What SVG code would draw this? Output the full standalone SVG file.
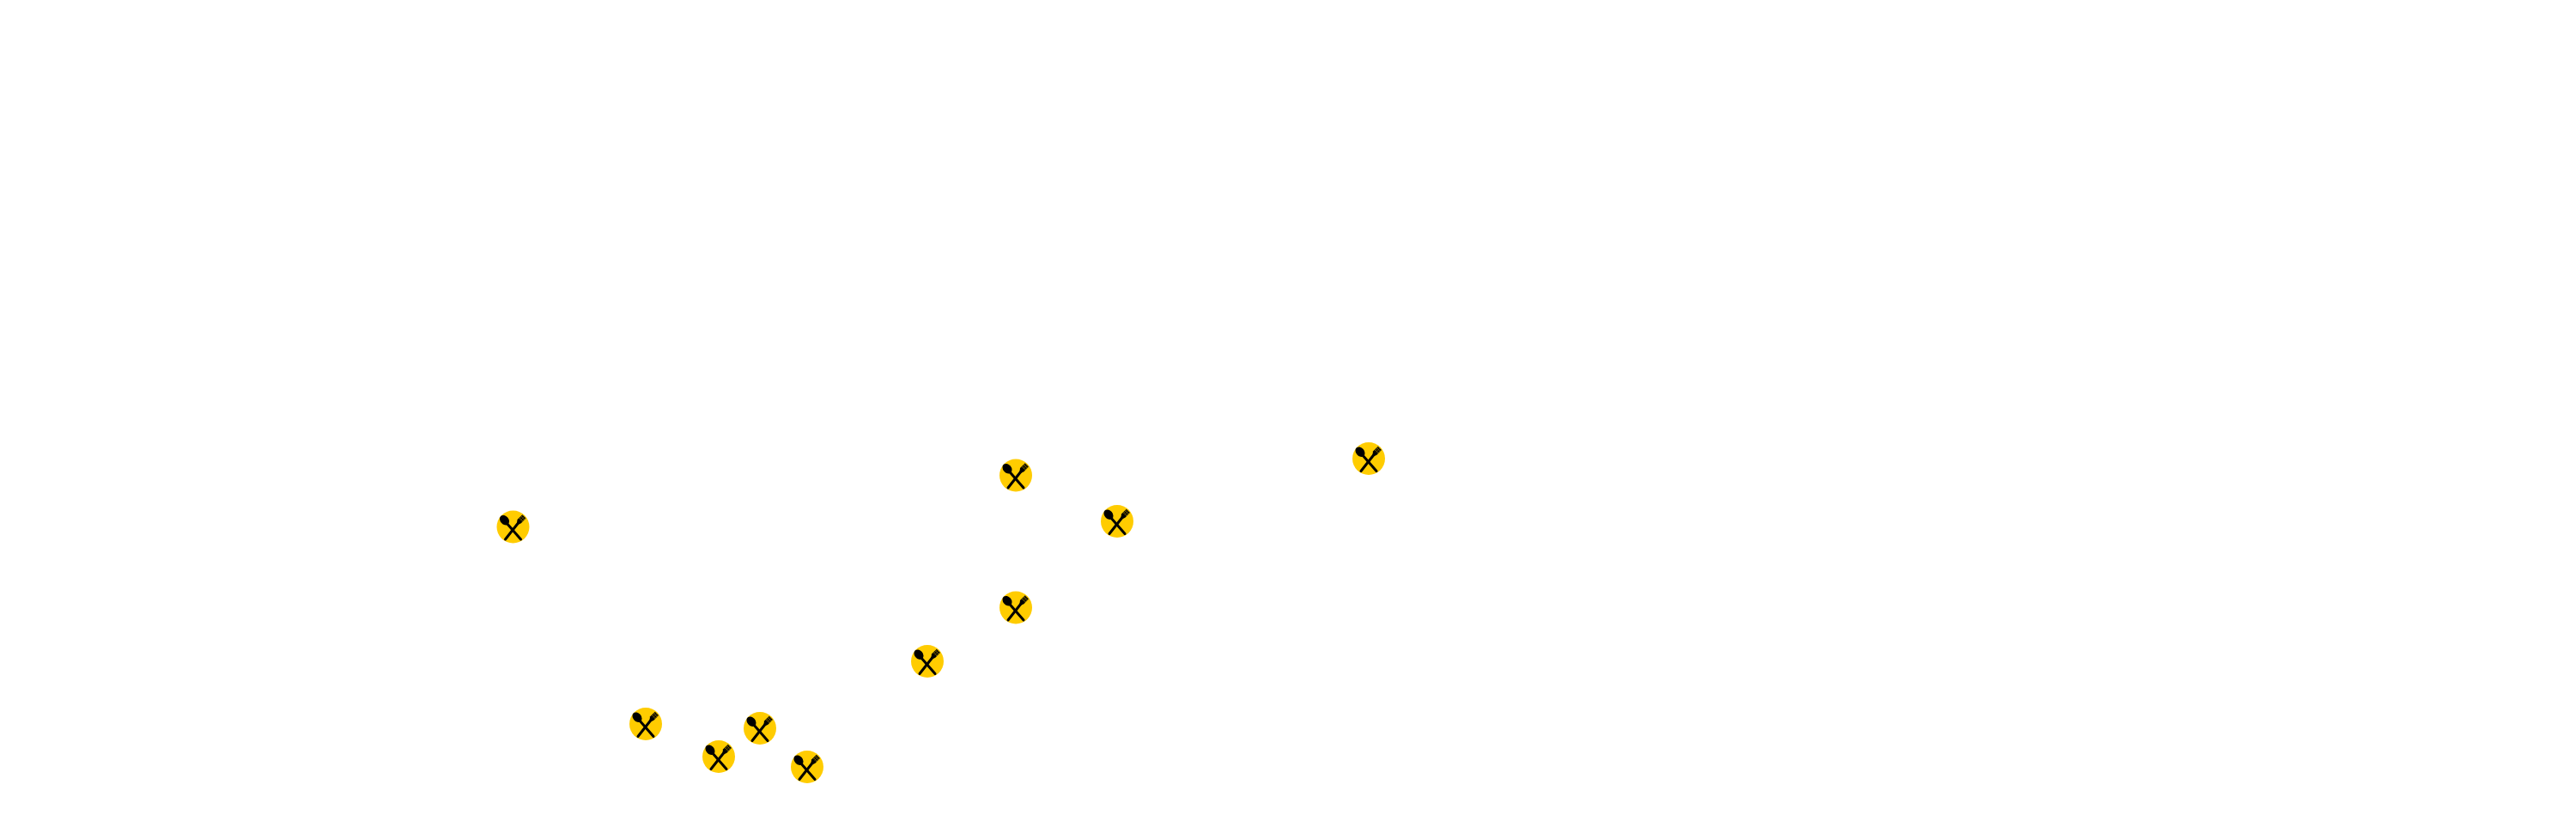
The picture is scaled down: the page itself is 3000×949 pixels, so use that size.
<svg xmlns="http://www.w3.org/2000/svg" width="3000" height="949" viewBox="0 0 3000 949">
  <style>
    .bg { fill: #ffffff; }
    .disc { fill: #ffcc00; }
    .bar { fill: none; stroke: #000000; stroke-width: 3; stroke-linecap: round; }
    .head { fill: #000000; }
    .tine { fill: none; stroke: #ffcc00; stroke-width: 0.5; stroke-opacity: 0.7; }
  </style>
  <defs>
    <symbol id="pin" viewBox="-20 -20 40 40" width="40" height="40" overflow="visible">
      <circle class="disc" r="19"/>
      <path class="bar" d="M-8 -5 L9 14.5"/>
      <path class="bar" d="M6 -4.5 L-9 14.5"/>
      <ellipse class="head" cx="-10" cy="-7.8" rx="6.4" ry="4.8" transform="rotate(50 -10 -7.8)"/>
      <path class="head" d="M4.4 -4 L5 -8.4 L10.8 -14.2 L15 -10 L9.4 -4.2 L6.2 -2.8 Z"/>
      <path class="tine" d="M7 -8.8 L11.4 -13.2 M8.6 -7.4 L13 -11.8 M10.2 -6 L14.6 -10.4 M7.3 -10.4 L12.2 -5.5 M9.3 -12.4 L14.2 -7.5"/>
    </symbol>
  </defs>
  <rect class="bg" width="3000" height="949"/>
  <g id="connectors"></g>
  <g id="node-1"><use href="#pin" x="577.5" y="593.5"/></g>
  <g id="node-2"><use href="#pin" x="732" y="823"/></g>
  <g id="node-3"><use href="#pin" x="817" y="861"/></g>
  <g id="node-4"><use href="#pin" x="865" y="828"/></g>
  <g id="node-5"><use href="#pin" x="920" y="873"/></g>
  <g id="node-6"><use href="#pin" x="1060" y="750"/></g>
  <g id="node-7"><use href="#pin" x="1163" y="687.5"/></g>
  <g id="node-8"><use href="#pin" x="1163" y="533.5"/></g>
  <g id="node-9"><use href="#pin" x="1281" y="587"/></g>
  <g id="node-10"><use href="#pin" x="1574" y="514"/></g>
</svg>
